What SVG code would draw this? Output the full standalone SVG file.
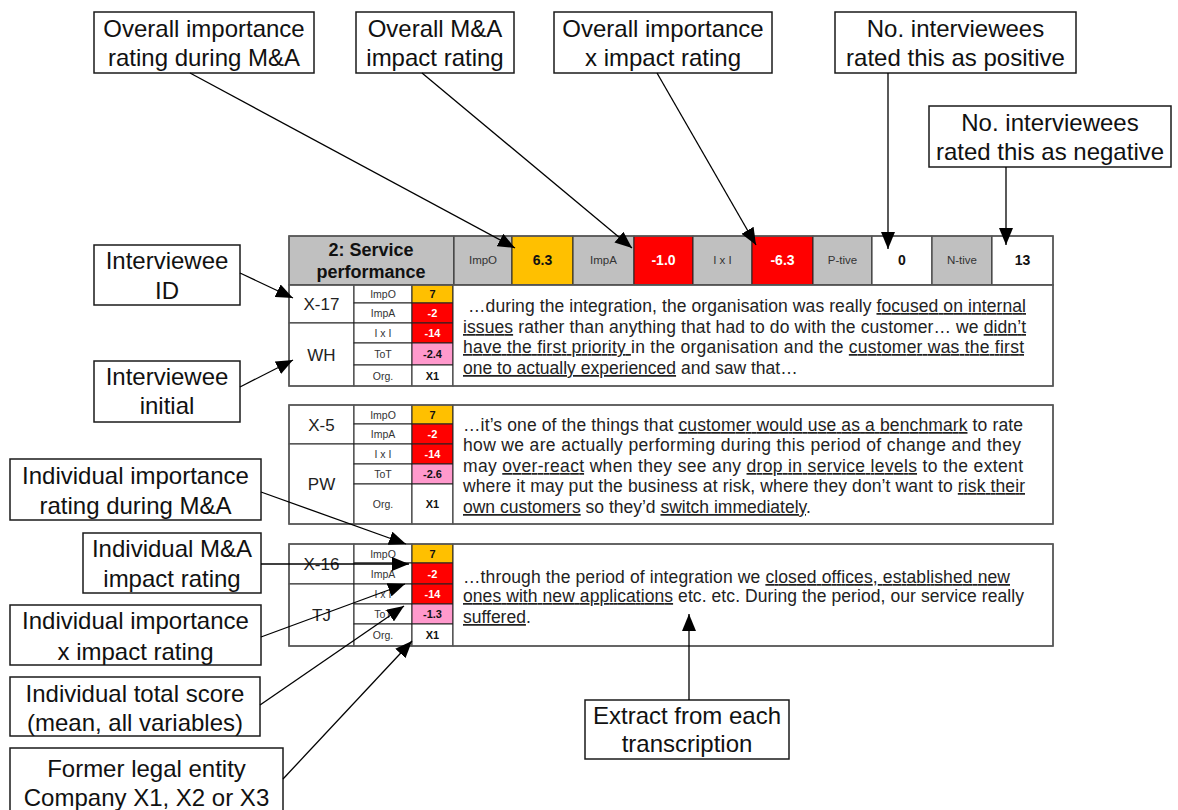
<svg xmlns="http://www.w3.org/2000/svg" width="1178" height="810" viewBox="0 0 1178 810">
  <defs>
    <marker id="arrow" markerUnits="userSpaceOnUse" markerWidth="17" markerHeight="14" refX="17" refY="7" orient="auto">
      <path d="M0,0 L17,7 L0,14 z" fill="#000"/>
    </marker>
  </defs>
  <style>
    text { font-family: "Liberation Sans", Arial, sans-serif; }
    .callout rect { fill: #fff; stroke: #1a1a1a; stroke-width: 1.5; }
    .callout text { font-size: 24px; fill: #111; text-anchor: middle; }
    .c { stroke: #222; stroke-width: 1; }
    .frame { fill: none; stroke: #5a5a5a; stroke-width: 1.6; }
    .gray { fill: #c0c0c0; }
    .yel { fill: #ffc000; }
    .red { fill: #ff0000; }
    .pink { fill: #ff99cc; }
    .white { fill: #fff; }
    .title { font-size: 18px; font-weight: bold; fill: #111; text-anchor: middle; }
    .hlab { font-size: 11.5px; fill: #333; text-anchor: middle; }
    .hval { font-size: 14px; font-weight: bold; fill: #111; text-anchor: middle; }
    .id { font-size: 17px; fill: #222; text-anchor: middle; }
    .rlab { font-size: 10.5px; fill: #333; text-anchor: middle; }
    .rval { font-size: 11px; font-weight: bold; fill: #111; text-anchor: middle; }
    .neg { fill: #fff; }
    .quote { font-size: 17.5px; fill: #222; }
    .u { text-decoration: underline; }
    #connectors line { stroke: #000; stroke-width: 1.3; marker-end: url(#arrow); }
  </style>

  <rect width="1178" height="810" fill="#fff"/>

  <!-- summary row for the theme -->
  <g id="summary-row">
    <rect class="c gray" x="289" y="236" width="165" height="49"/>
    <text class="title" x="371" y="256">2: Service</text>
    <text class="title" x="371" y="278">performance</text>
    <rect class="c gray" x="454" y="236" width="58" height="49"/>
    <text class="hlab" x="483" y="264">ImpO</text>
    <rect class="c yel" x="512" y="236" width="61" height="49"/>
    <text class="hval" x="542.5" y="265">6.3</text>
    <rect class="c gray" x="573" y="236" width="61" height="49"/>
    <text class="hlab" x="603.5" y="264">ImpA</text>
    <rect class="c red" x="634" y="236" width="59" height="49"/>
    <text class="hval neg" x="663.5" y="265">-1.0</text>
    <rect class="c gray" x="693" y="236" width="59" height="49"/>
    <text class="hlab" x="722.5" y="264">I x I</text>
    <rect class="c red" x="752" y="236" width="61" height="49"/>
    <text class="hval neg" x="782.5" y="265">-6.3</text>
    <rect class="c gray" x="813" y="236" width="59" height="49"/>
    <text class="hlab" x="842.5" y="264">P-tive</text>
    <rect class="c white" x="872" y="236" width="60" height="49"/>
    <text class="hval" x="902" y="265">0</text>
    <rect class="c gray" x="932" y="236" width="60" height="49"/>
    <text class="hlab" x="962" y="264">N-tive</text>
    <rect class="c white" x="992" y="236" width="61" height="49"/>
    <text class="hval" x="1022.5" y="265">13</text>
    <rect class="frame" x="289" y="236" width="764" height="49"/>
  </g>

  <!-- interviewee X-17 -->
  <g id="entry-x17">
    <rect class="c white" x="289" y="285" width="65" height="38"/>
    <rect class="c white" x="289" y="323" width="65" height="63"/>
    <text class="id" x="321.5" y="310">X-17</text>
    <text class="id" x="321.5" y="360.5">WH</text>
    <rect class="c white" x="354" y="285" width="58" height="18"/>
    <rect class="c white" x="354" y="303" width="58" height="20"/>
    <rect class="c white" x="354" y="323" width="58" height="20"/>
    <rect class="c white" x="354" y="343" width="58" height="22"/>
    <rect class="c white" x="354" y="365" width="58" height="21"/>
    <rect class="c yel" x="412" y="285" width="41" height="18"/>
    <rect class="c red" x="412" y="303" width="41" height="20"/>
    <rect class="c red" x="412" y="323" width="41" height="20"/>
    <rect class="c pink" x="412" y="343" width="41" height="22"/>
    <rect class="c white" x="412" y="365" width="41" height="21"/>
    <text class="rlab" x="383" y="298">ImpO</text>
    <text class="rlab" x="383" y="317">ImpA</text>
    <text class="rlab" x="383" y="337">I x I</text>
    <text class="rlab" x="383" y="358">ToT</text>
    <text class="rlab" x="383" y="379.5">Org.</text>
    <text class="rval" x="432.5" y="298">7</text>
    <text class="rval neg" x="432.5" y="317">-2</text>
    <text class="rval neg" x="432.5" y="337">-14</text>
    <text class="rval" x="432.5" y="358">-2.4</text>
    <text class="rval" x="432.5" y="379.5">X1</text>
    <rect class="c white" x="453" y="285" width="600" height="101"/>
    <text class="quote" x="468" y="312" textLength="558" lengthAdjust="spacing">…during the integration, the organisation was really <tspan class="u">focused on internal</tspan></text>
    <text class="quote" x="463" y="333" textLength="563" lengthAdjust="spacing"><tspan class="u">issues</tspan> rather than anything that had to do with the customer… we <tspan class="u">didn’t</tspan></text>
    <text class="quote" x="463" y="353" textLength="561" lengthAdjust="spacing"><tspan class="u">have the first priority </tspan>in the organisation and the <tspan class="u">customer was the first</tspan></text>
    <text class="quote" x="463" y="374"><tspan class="u">one to actually experienced</tspan> and saw that…</text>
    <rect class="frame" x="289" y="285" width="764" height="101"/>
  </g>

  <!-- interviewee X-5 -->
  <g id="entry-x5">
    <rect class="c white" x="289" y="405" width="65" height="39"/>
    <rect class="c white" x="289" y="444" width="65" height="80"/>
    <text class="id" x="321.5" y="430.5">X-5</text>
    <text class="id" x="321.5" y="490">PW</text>
    <rect class="c white" x="354" y="405" width="58" height="19"/>
    <rect class="c white" x="354" y="424" width="58" height="20"/>
    <rect class="c white" x="354" y="444" width="58" height="20"/>
    <rect class="c white" x="354" y="464" width="58" height="20"/>
    <rect class="c white" x="354" y="484" width="58" height="40"/>
    <rect class="c yel" x="412" y="405" width="41" height="19"/>
    <rect class="c red" x="412" y="424" width="41" height="20"/>
    <rect class="c red" x="412" y="444" width="41" height="20"/>
    <rect class="c pink" x="412" y="464" width="41" height="20"/>
    <rect class="c white" x="412" y="484" width="41" height="40"/>
    <text class="rlab" x="383" y="418.5">ImpO</text>
    <text class="rlab" x="383" y="438">ImpA</text>
    <text class="rlab" x="383" y="458">I x I</text>
    <text class="rlab" x="383" y="478">ToT</text>
    <text class="rlab" x="383" y="508">Org.</text>
    <text class="rval" x="432.5" y="418.5">7</text>
    <text class="rval neg" x="432.5" y="438">-2</text>
    <text class="rval neg" x="432.5" y="458">-14</text>
    <text class="rval" x="432.5" y="478">-2.6</text>
    <text class="rval" x="432.5" y="508">X1</text>
    <rect class="c white" x="453" y="405" width="600" height="119"/>
    <text class="quote" x="463" y="431" textLength="560" lengthAdjust="spacing">…it’s one of the things that <tspan class="u">customer would use as a benchmark</tspan> to rate</text>
    <text class="quote" x="463" y="451" textLength="558" lengthAdjust="spacing">how we are actually performing during this period of change and they</text>
    <text class="quote" x="463" y="472" textLength="560" lengthAdjust="spacing">may <tspan class="u">over-react</tspan> when they see any <tspan class="u">drop in service levels</tspan> to the extent</text>
    <text class="quote" x="463" y="492" textLength="562" lengthAdjust="spacing">where it may put the business at risk, where they don’t want to <tspan class="u">risk their</tspan></text>
    <text class="quote" x="463" y="513"><tspan class="u">own customers</tspan> so they’d <tspan class="u">switch immediately</tspan>.</text>
    <rect class="frame" x="289" y="405" width="764" height="119"/>
  </g>

  <!-- interviewee X-16 -->
  <g id="entry-x16">
    <rect class="c white" x="289" y="544" width="65" height="40"/>
    <rect class="c white" x="289" y="584" width="65" height="62"/>
    <text class="id" x="321.5" y="570">X-16</text>
    <text class="id" x="321.5" y="621">TJ</text>
    <rect class="c white" x="354" y="544" width="58" height="19"/>
    <rect class="c white" x="354" y="563" width="58" height="21"/>
    <rect class="c white" x="354" y="584" width="58" height="20"/>
    <rect class="c white" x="354" y="604" width="58" height="20"/>
    <rect class="c white" x="354" y="624" width="58" height="22"/>
    <rect class="c yel" x="412" y="544" width="41" height="19"/>
    <rect class="c red" x="412" y="563" width="41" height="21"/>
    <rect class="c red" x="412" y="584" width="41" height="20"/>
    <rect class="c pink" x="412" y="604" width="41" height="20"/>
    <rect class="c white" x="412" y="624" width="41" height="22"/>
    <text class="rlab" x="383" y="557.5">ImpO</text>
    <text class="rlab" x="383" y="577.5">ImpA</text>
    <text class="rlab" x="383" y="598">I x I</text>
    <text class="rlab" x="383" y="618">ToT</text>
    <text class="rlab" x="383" y="639">Org.</text>
    <text class="rval" x="432.5" y="557.5">7</text>
    <text class="rval neg" x="432.5" y="577.5">-2</text>
    <text class="rval neg" x="432.5" y="598">-14</text>
    <text class="rval" x="432.5" y="618">-1.3</text>
    <text class="rval" x="432.5" y="639">X1</text>
    <rect class="c white" x="453" y="544" width="600" height="102"/>
    <text class="quote" x="463" y="583" textLength="547" lengthAdjust="spacing">…through the period of integration we <tspan class="u">closed offices, established new</tspan></text>
    <text class="quote" x="463" y="602" textLength="561" lengthAdjust="spacing"><tspan class="u">ones with new applications</tspan> etc. etc. During the period, our service really</text>
    <text class="quote" x="463" y="623"><tspan class="u">suffered</tspan>.</text>
    <rect class="frame" x="289" y="544" width="764" height="102"/>
  </g>

  <!-- explanatory callouts -->
  <g id="callout-overall-importance" class="callout">
    <rect x="94" y="12" width="220" height="61"/>
    <text x="204" y="37">Overall importance</text>
    <text x="204" y="66">rating during M&amp;A</text>
  </g>
  <g id="callout-overall-impact" class="callout">
    <rect x="356" y="12" width="158" height="61"/>
    <text x="435" y="37">Overall M&amp;A</text>
    <text x="435" y="66">impact rating</text>
  </g>
  <g id="callout-overall-product" class="callout">
    <rect x="554" y="12" width="218" height="61"/>
    <text x="663" y="37">Overall importance</text>
    <text x="663" y="66">x impact rating</text>
  </g>
  <g id="callout-positive" class="callout">
    <rect x="835" y="12" width="241" height="61"/>
    <text x="955.5" y="37">No. interviewees</text>
    <text x="955.5" y="66">rated this as positive</text>
  </g>
  <g id="callout-negative" class="callout">
    <rect x="929" y="106" width="242" height="61"/>
    <text x="1050" y="131">No. interviewees</text>
    <text x="1050" y="160">rated this as negative</text>
  </g>
  <g id="callout-id" class="callout">
    <rect x="94" y="245" width="146" height="60"/>
    <text x="167" y="269">Interviewee</text>
    <text x="167" y="299">ID</text>
  </g>
  <g id="callout-initial" class="callout">
    <rect x="94" y="361" width="146" height="61"/>
    <text x="167" y="385">Interviewee</text>
    <text x="167" y="414">initial</text>
  </g>
  <g id="callout-ind-importance" class="callout">
    <rect x="10" y="459" width="251" height="61"/>
    <text x="135.5" y="484">Individual importance</text>
    <text x="135.5" y="514">rating during M&amp;A</text>
  </g>
  <g id="callout-ind-impact" class="callout">
    <rect x="83" y="533" width="178" height="60"/>
    <text x="172" y="557">Individual M&amp;A</text>
    <text x="172" y="587">impact rating</text>
  </g>
  <g id="callout-ind-product" class="callout">
    <rect x="10" y="605" width="251" height="60"/>
    <text x="135.5" y="629">Individual importance</text>
    <text x="135.5" y="660">x impact rating</text>
  </g>
  <g id="callout-total" class="callout">
    <rect x="10" y="677" width="250" height="59"/>
    <text x="135" y="702">Individual total score</text>
    <text x="135" y="731">(mean, all variables)</text>
  </g>
  <g id="callout-entity" class="callout">
    <rect x="10" y="748" width="273" height="70"/>
    <text x="146.5" y="777">Former legal entity</text>
    <text x="146.5" y="806">Company X1, X2 or X3</text>
  </g>
  <g id="callout-extract" class="callout">
    <rect x="585" y="700" width="204" height="59"/>
    <text x="687" y="724">Extract from each</text>
    <text x="687" y="752">transcription</text>
  </g>

  <!-- leader arrows -->
  <g id="connectors">
    <line x1="190" y1="73" x2="515" y2="248"/>
    <line x1="422" y1="73" x2="632" y2="248"/>
    <line x1="657" y1="73" x2="756" y2="245"/>
    <line x1="888" y1="73" x2="888" y2="249"/>
    <line x1="1006" y1="167" x2="1006" y2="245"/>
    <line x1="240" y1="273" x2="293" y2="298"/>
    <line x1="240" y1="387" x2="293" y2="360"/>
    <line x1="261" y1="492" x2="406" y2="544"/>
    <line x1="261" y1="564" x2="409" y2="564"/>
    <line x1="261" y1="637" x2="405" y2="584"/>
    <line x1="260" y1="705" x2="404" y2="606"/>
    <line x1="283" y1="779" x2="412" y2="641"/>
    <line x1="689" y1="700" x2="689" y2="614"/>
  </g>
</svg>
